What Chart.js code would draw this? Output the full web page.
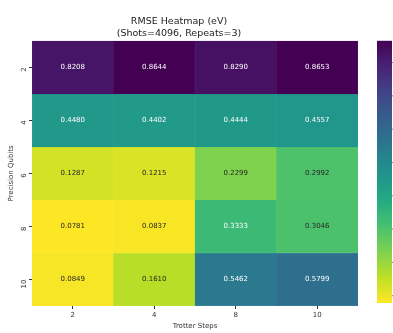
<!DOCTYPE html>
<html>
<head>
<meta charset="utf-8">
<script src="https://cdn.jsdelivr.net/npm/chart.js@4.4.1/dist/chart.umd.min.js"></script>
<style>
  html, body { margin: 0; padding: 0; background: #ffffff; overflow: hidden; }
  #wrap { position: relative; width: 393px; height: 333px; }
</style>
</head>
<body>
<div id="wrap"><canvas id="heat" width="393" height="333"></canvas></div>
<script>
// Trotter steps (columns) and precision qubits (rows)
const trotterSteps = ['2', '4', '8', '10'];
const precisionQubits = ['2', '4', '6', '8', '10'];

// RMSE (eV), one array per precision-qubit row
const rmseQ2  = [0.8208, 0.8644, 0.8290, 0.8653];
const rmseQ4  = [0.4480, 0.4402, 0.4444, 0.4557];
const rmseQ6  = [0.1287, 0.1215, 0.2299, 0.2992];
const rmseQ8  = [0.0781, 0.0837, 0.3333, 0.3046];
const rmseQ10 = [0.0849, 0.1610, 0.5462, 0.5799];
const rmseRows = [rmseQ2, rmseQ4, rmseQ6, rmseQ8, rmseQ10];

// colour scale limits follow the data
const allVals = rmseRows.flat();
const vmin = Math.min(...allVals);
const vmax = Math.max(...allVals);

// viridis reference stops
const viridisStops = ['#440154','#482475','#414487','#355f8d','#2a788e','#21918c',
                      '#22a884','#44bf70','#7ad151','#bddf26','#fde725'];
function hexRgb(h) {
  return [parseInt(h.slice(1,3),16), parseInt(h.slice(3,5),16), parseInt(h.slice(5,7),16)];
}
function viridis(t) {
  t = Math.max(0, Math.min(1, t));
  const p = t * (viridisStops.length - 1);
  const i = Math.min(Math.floor(p), viridisStops.length - 2);
  const f = p - i;
  const a = hexRgb(viridisStops[i]), b = hexRgb(viridisStops[i + 1]);
  return a.map((v, k) => Math.round(v + (b[k] - v) * f));
}
// reversed map: small errors are bright
function cellRgb(v) { return viridis(1 - (v - vmin) / (vmax - vmin)); }
function rgbStr(c) { return 'rgb(' + c.join(',') + ')'; }
function luminance(c) {
  const lin = c.map(x => { x /= 255; return x <= 0.03928 ? x / 12.92 : Math.pow((x + 0.055) / 1.055, 2.4); });
  return 0.2126 * lin[0] + 0.7152 * lin[1] + 0.0722 * lin[2];
}

const FONT = "'DejaVu Sans', sans-serif";

// each row becomes a floating bar set spanning [row, row + 1]
const datasets = rmseRows.map((row, i) => ({
  label: precisionQubits[i],
  data: row.map(() => [i, i + 1]),
  values: row,
  backgroundColor: row.map(v => rgbStr(cellRgb(v))),
  borderColor: row.map(v => rgbStr(cellRgb(v))),
  borderWidth: 0.5,
  borderSkipped: false,
  grouped: false,
  barPercentage: 1,
  categoryPercentage: 1
}));

// cell annotations
const annotate = {
  id: 'annotate',
  afterDatasetsDraw(chart) {
    const ctx = chart.ctx;
    ctx.save();
    ctx.font = '7px ' + FONT;
    ctx.textAlign = 'center';
    ctx.textBaseline = 'middle';
    chart.data.datasets.forEach((ds, di) => {
      chart.getDatasetMeta(di).data.forEach((el, j) => {
        const v = ds.values[j];
        ctx.fillStyle = luminance(cellRgb(v)) > 0.395 ? '#262626' : '#ffffff';
        ctx.fillText(v.toFixed(4), el.x, (el.y + el.base) / 2);
      });
    });
    ctx.restore();
  }
};

// colour bar to the right of the grid
const colorBar = {
  id: 'colorBar',
  afterDraw(chart) {
    const ctx = chart.ctx;
    const top = chart.chartArea.top, bottom = chart.chartArea.bottom - 3;
    const x0 = 377, x1 = 392;
    const g = ctx.createLinearGradient(0, top, 0, bottom);
    for (let k = 0; k <= 20; k++) {
      const t = k / 20; // 0 at top (vmax)
      g.addColorStop(t, rgbStr(viridis(t)));
    }
    ctx.save();
    ctx.fillStyle = g;
    ctx.fillRect(x0, top, x1 - x0, bottom - top);
    ctx.strokeStyle = '#555';
    ctx.lineWidth = 0.8;
    for (let v = 0.1; v < vmax; v += 0.1) {
      if (v < vmin) continue;
      const y = bottom - (v - vmin) / (vmax - vmin) * (bottom - top);
      ctx.beginPath();
      ctx.moveTo(x1, y);
      ctx.lineTo(x1 + 3, y);
      ctx.stroke();
    }
    ctx.restore();
  }
};

new Chart(document.getElementById('heat'), {
  type: 'bar',
  data: { labels: trotterSteps, datasets },
  plugins: [annotate, colorBar],
  options: {
    responsive: false,
    animation: false,
    devicePixelRatio: 1,
    layout: { padding: { left: 0, right: 35, top: 0, bottom: 0 } },
    plugins: {
      legend: { display: false },
      tooltip: { enabled: false },
      title: {
        display: true,
        text: ['RMSE Heatmap (eV)', '(Shots=4096, Repeats=3)'],
        font: { family: FONT, size: 9.5, weight: 'normal', lineHeight: 1.2 },
        color: '#222',
        padding: { top: 16, bottom: 2 }
      }
    },
    scales: {
      x: {
        type: 'category',
        offset: true,
        grid: { display: true, drawOnChartArea: false, drawTicks: true, tickLength: 3, color: '#333', offset: false },
        border: { display: false },
        ticks: { font: { family: FONT, size: 7 }, color: '#333', padding: 2, maxRotation: 0 },
        title: { display: true, text: 'Trotter Steps', font: { family: FONT, size: 7 }, color: '#333', padding: { top: 0, bottom: 3 } },
        afterFit(scale) { scale.height = 27; }
      },
      y: {
        type: 'linear',
        min: 0,
        max: 5,
        reverse: true,
        afterBuildTicks(scale) {
          scale.ticks = precisionQubits.map((_, i) => ({ value: i + 0.5 }));
        },
        grid: { display: true, drawOnChartArea: false, drawTicks: true, tickLength: 3, color: '#333' },
        border: { display: false },
        ticks: {
          font: { family: FONT, size: 7 },
          color: '#333',
          padding: 5,
          minRotation: 90,
          maxRotation: 90,
          callback: (v) => precisionQubits[Math.floor(v)]
        },
        title: { display: true, text: 'Precision Qubits', font: { family: FONT, size: 7 }, color: '#333', padding: { top: 7, bottom: 0 } },
        afterFit(scale) { scale.width = 32; }
      }
    }
  }
});
</script>
</body>
</html>
